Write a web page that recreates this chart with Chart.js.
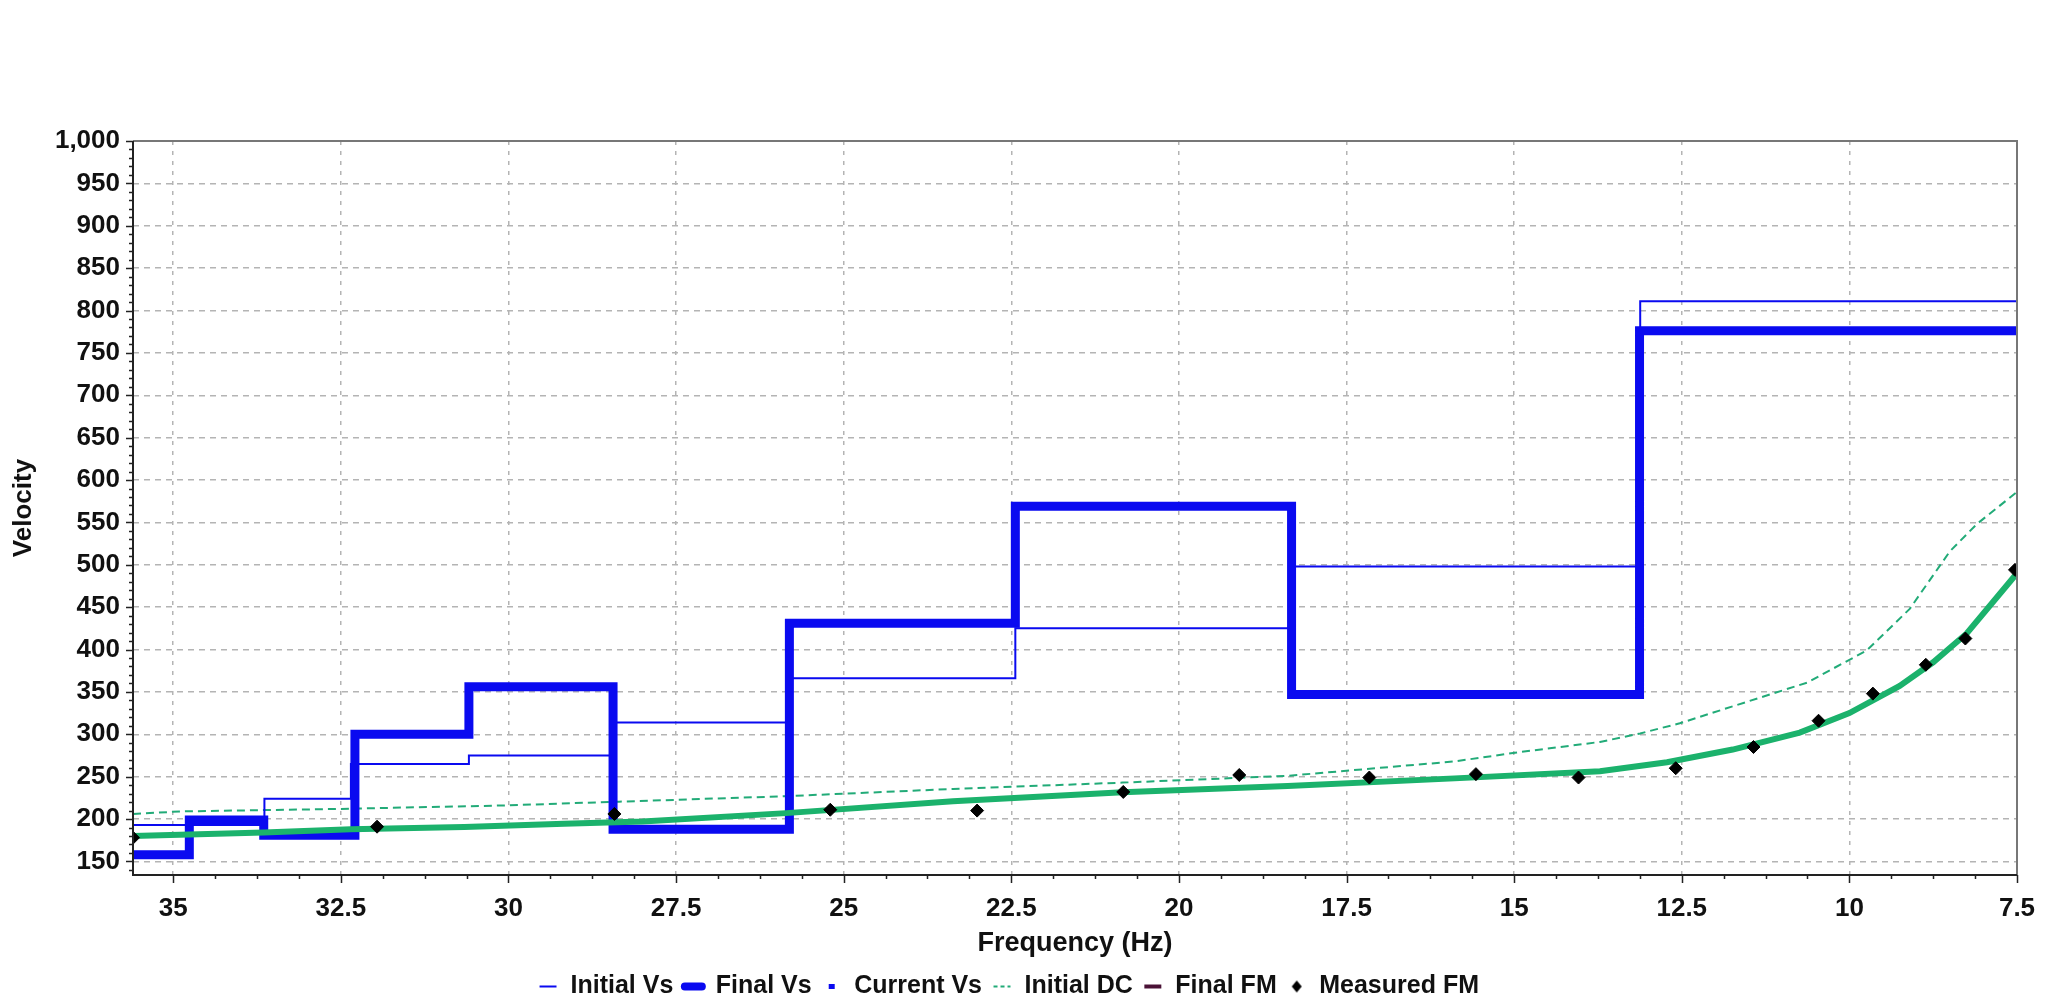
<!DOCTYPE html>
<html><head><meta charset="utf-8">
<script src="https://cdn.jsdelivr.net/npm/chart.js@4/dist/chart.umd.min.js"></script>
<style>html,body{margin:0;padding:0;background:#fff}#wrap{width:2062px;height:1002px;position:relative}</style>
</head><body><div id="wrap"><canvas id="c"></canvas></div>
<script>
// ---- tick labels ----
const freqTicks = [35, 32.5, 30, 27.5, 25, 22.5, 20, 17.5, 15, 12.5, 10, 7.5];
const velocityTicks = [150, 200, 250, 300, 350, 400, 450, 500, 550, 600, 650, 700, 750, 800, 850, 900, 950, 1000];

// ---- layered profiles (frequency boundaries, layer velocity) ----
const initialVsBounds = [35.6, 33.64, 32.35, 30.59, 28.44, 25.81, 22.44, 18.32, 13.12, 7.5];
const initialVs = [193, 224, 265, 275, 314, 366, 425, 498, 811];

const finalVsBounds = [35.6, 34.76, 33.65, 32.29, 30.59, 28.44, 25.81, 22.44, 18.32, 13.13, 7.5];
const finalVs = [158, 199, 181, 300, 356, 188, 431, 569, 347, 776];

const currentVsFreq = [];
const currentVs = [];

// ---- dispersion curves ----
const initialDcFreq = [35.6, 34.9, 32.5, 30.1, 28.35, 25.86, 23.37, 20.84, 18.38, 15.89, 14.92, 13.72, 13.12, 12.53, 11.74, 10.63, 9.74, 9.1, 8.5, 8.1, 7.5];
const initialDc = [206, 209, 212, 216, 220.5, 227, 235.5, 243, 251, 268, 279, 291, 301, 313, 333, 361, 399, 448, 516, 548, 586];

const finalFmFreq = [35.6, 33.65, 32.35, 30.66, 29.17, 28.0, 25.86, 23.37, 20.84, 18.38, 15.89, 13.72, 12.72, 11.74, 10.74, 10.0, 9.25, 8.75, 8.25, 7.5];
const finalFm = [180, 184, 188, 190.5, 194.4, 197, 207, 221, 231.5, 239, 248, 256.5, 267, 282, 302, 325, 357, 385, 419, 490];

const measuredFmFreq = [35.6, 31.96, 28.42, 25.2, 23.01, 20.83, 19.1, 17.16, 15.57, 14.04, 12.59, 11.43, 10.46, 9.65, 8.86, 8.27, 7.53];
const measuredFm = [178, 191, 206, 211, 210, 232, 252, 249, 253, 249, 260, 285, 316, 348, 382, 413, 494];

// ---- helpers ----
function stepPoints(bounds, vals) {
  const pts = [];
  for (let i = 0; i < vals.length; i++) {
    pts.push({x: bounds[i], y: vals[i]});
    pts.push({x: bounds[i + 1], y: vals[i]});
  }
  return pts;
}
function pairs(xs, ys) { return xs.map((x, i) => ({x: x, y: ys[i]})); }

const BLUE = '#0a0af0';
const GREEN = '#1bb26c';
const DCGREEN = '#22ab78';
const FONT = "'Liberation Sans', Arial, sans-serif";

// small diamond for the legend
const diamond = document.createElement('canvas');
diamond.width = 12; diamond.height = 14;
(function(){ const g = diamond.getContext('2d'); g.fillStyle = '#000'; g.beginPath(); g.moveTo(6,1); g.lineTo(11,7); g.lineTo(6,13); g.lineTo(1,7); g.closePath(); g.fill(); })();

const axisDecor = {
  id: 'axisDecor',
  afterLayout(chart) {
    if (chart.legend) { chart.legend.top += 8; chart.legend.bottom += 8; }
  },
  afterDraw(chart) {
    const {ctx, chartArea: a, scales: {x, y}} = chart;
    ctx.save();
    ctx.setLineDash([]);
    ctx.lineWidth = 2;
    ctx.strokeStyle = '#777';
    ctx.beginPath(); ctx.moveTo(a.left, a.top); ctx.lineTo(a.right, a.top); ctx.lineTo(a.right, a.bottom); ctx.stroke();
    ctx.strokeStyle = '#222';
    ctx.beginPath(); ctx.moveTo(a.left, a.top); ctx.lineTo(a.left, a.bottom); ctx.lineTo(a.right, a.bottom); ctx.stroke();
    ctx.lineWidth = 1.5;
    ctx.beginPath();
    for (let v = 140; v <= 1000; v += 10) {
      const py = Math.round(y.getPixelForValue(v)) + 0.5;
      const len = (v % 50 === 0) ? 7 : 4;
      ctx.moveTo(a.left - len, py); ctx.lineTo(a.left, py);
    }
    for (let i = 0; ; i++) {
      const f = 7.5 + i * 0.625;
      if (f > x.max) break;
      const px = Math.round(x.getPixelForValue(f)) + 0.5;
      const len = (i % 4 === 0) ? 8 : 4;
      ctx.moveTo(px, a.bottom); ctx.lineTo(px, a.bottom + len);
    }
    ctx.stroke();
    ctx.restore();
  }
};

const legendSpec = [
  {text: 'Initial Vs', strokeStyle: BLUE, fillStyle: BLUE, lineWidth: 2, pointStyle: 'line'},
  {text: 'Final Vs', strokeStyle: BLUE, fillStyle: BLUE, lineWidth: 8, lineCap: 'round', pointStyle: 'line'},
  {text: 'Current Vs', strokeStyle: BLUE, fillStyle: BLUE, lineWidth: 5, lineDash: [6, 40], lineDashOffset: -5.5, pointStyle: 'line'},
  {text: 'Initial DC', strokeStyle: DCGREEN, fillStyle: DCGREEN, lineWidth: 2, lineDash: [4, 3], pointStyle: 'line'},
  {text: 'Final FM', strokeStyle: '#4a1236', fillStyle: '#4a1236', lineWidth: 4, pointStyle: 'line'},
  {text: 'Measured FM', strokeStyle: '#000', fillStyle: '#000', lineWidth: 1, pointStyle: diamond}
];

new Chart(document.getElementById('c'), {
  type: 'line',
  data: {
    datasets: [
      {label: 'Initial Vs', data: stepPoints(initialVsBounds, initialVs), borderColor: BLUE, borderWidth: 2, pointRadius: 0, order: 4, borderJoinStyle: 'miter'},
      {label: 'Final Vs', data: stepPoints(finalVsBounds, finalVs), borderColor: BLUE, borderWidth: 9, pointRadius: 0, order: 2, borderJoinStyle: 'miter'},
      {label: 'Current Vs', data: pairs(currentVsFreq, currentVs), borderColor: BLUE, borderWidth: 5, borderDash: [10, 8], pointRadius: 0, order: 3},
      {label: 'Initial DC', data: pairs(initialDcFreq, initialDc), borderColor: DCGREEN, borderWidth: 2, borderDash: [8, 5], pointRadius: 0, order: 5},
      {label: 'Final FM', data: pairs(finalFmFreq, finalFm), borderColor: GREEN, borderWidth: 6, pointRadius: 0, order: 1},
      {label: 'Measured FM', data: pairs(measuredFmFreq, measuredFm), showLine: false, pointStyle: 'rectRot', pointRadius: 6.5, pointBackgroundColor: '#000', pointBorderColor: '#000', borderColor: '#000', order: 0}
    ]
  },
  options: {
    responsive: true,
    maintainAspectRatio: false,
    animation: false,
    events: [],
    layout: {padding: {top: 141, right: 45, bottom: 1, left: 0}},
    plugins: {
      tooltip: {enabled: false},
      title: {display: false},
      legend: {
        position: 'bottom',
        labels: {
          usePointStyle: true, boxWidth: 20, boxHeight: 12, padding: 10,
          color: '#111', font: {family: FONT, size: 25, weight: 'bold'},
          generateLabels: () => legendSpec.map((s, i) => Object.assign({hidden: false, datasetIndex: i, fontColor: '#111'}, s))
        }
      }
    },
    scales: {
      x: {
        type: 'linear', reverse: true, min: 7.5, max: 35.6,
        afterBuildTicks: s => { s.ticks = freqTicks.map(v => ({value: v})); },
        afterFit: s => { s.height = 81; },
        ticks: {autoSkip: false, maxRotation: 0, padding: 10, color: '#111', font: {family: FONT, size: 26, weight: 'bold'}, callback: v => String(v)},
        grid: {color: '#b4b4b4', lineWidth: 1.5, tickLength: 8, tickColor: 'rgba(0,0,0,0)'},
        border: {display: false, dash: [4, 6]},
        title: {display: true, text: 'Frequency (Hz)', color: '#111', font: {family: FONT, size: 27, weight: 'bold'}, padding: {top: 0, bottom: -4}}
      },
      y: {
        type: 'linear', min: 134, max: 1000,
        afterBuildTicks: s => { s.ticks = velocityTicks.map(v => ({value: v})); },
        afterFit: s => { s.width = 133; },
        ticks: {padding: 6, color: '#111', font: {family: FONT, size: 26, weight: 'bold'}, callback: v => v.toLocaleString('en-US')},
        grid: {color: '#b4b4b4', lineWidth: 1.5, tickLength: 7, tickColor: 'rgba(0,0,0,0)'},
        border: {display: false, dash: [6, 5]},
        title: {display: true, text: 'Velocity', color: '#111', font: {family: FONT, size: 26, weight: 'bold'}, padding: {top: 8, bottom: 0}}
      }
    }
  },
  plugins: [axisDecor]
});
</script>
</body></html>
